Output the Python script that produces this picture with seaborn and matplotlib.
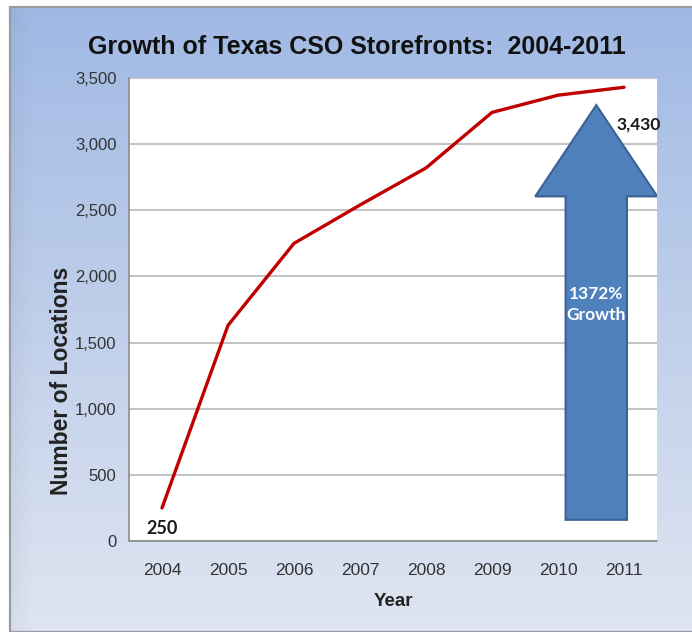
import numpy as np
import pandas as pd
import matplotlib
matplotlib.use("Agg")
import matplotlib.pyplot as plt
import seaborn as sns
from matplotlib.patches import FancyArrow, Rectangle

# ---- data ----
years = ["2004", "2005", "2006", "2007", "2008", "2009", "2010", "2011"]
locations = [250, 1630, 2250, 2540, 2820, 3240, 3370, 3430]
y_ticks = [0, 500, 1000, 1500, 2000, 2500, 3000, 3500]
y_tick_labels = ["0", "500", "1,000", "1,500", "2,000", "2,500", "3,000", "3,500"]
first_label = "250"
last_label = "3,430"
arrow_text = "1372%\nGrowth"
title = "Growth of Texas CSO Storefronts:  2004-2011"

sns.set_theme(style="white")
narrow = ["Liberation Sans Narrow", "Liberation Sans", "DejaVu Sans"]
plt.rcParams["font.family"] = narrow

df = pd.DataFrame({"idx": np.arange(len(years)), "Year": years, "Locations": locations})

W, H = 692, 632
fig = plt.figure(figsize=(W / 100, H / 100), dpi=100)
fig.patch.set_facecolor("white")

# gradient background panel
bg = fig.add_axes([10 / W, 0, 1 - 10 / W, 1 - 7 / H])
bg.set_zorder(-10)
top = np.array([160, 185, 228]) / 255
bot = np.array([223, 229, 241]) / 255
t = np.linspace(0, 1, 256)[:, None]
grad = top[None, None, :] * (1 - t[..., None]) + bot[None, None, :] * t[..., None]
xs = np.linspace(0, 1, 256)[None, :, None]
grad = np.repeat(grad, 256, axis=1)
grad = grad * (0.96 + 0.04 * np.clip(xs * 30, 0, 1))
bg.imshow(grad, aspect="auto", extent=[0, 1, 0, 1])
bg.set_xlim(0, 1)
bg.set_ylim(0, 1)
bg.axis("off")
bg.add_patch(Rectangle((0, 0), 1.2, 1, fill=False, edgecolor="#9a9ca3", lw=1.6,
                       transform=bg.transAxes, clip_on=False))

ax = fig.add_axes([129 / W, (H - 541) / H, (657 - 129) / W, (541 - 78) / H])
ax.set_facecolor("white")

sns.lineplot(data=df, x="idx", y="Locations", ax=ax, color="#c00000", lw=2.4,
             zorder=3, legend=False)

ax.set_xlim(-0.5, len(years) - 0.5)
ax.set_ylim(0, 3500)
ax.set_yticks(y_ticks)
ax.set_yticklabels(y_tick_labels, fontsize=12, color="#333333")
ax.yaxis.grid(True, color="#c4c4c4", lw=1.5)
ax.set_xticks(np.arange(len(years)))
ax.set_xticklabels(years, fontsize=12.5, color="#333333")
ax.set_xticks(np.arange(len(years) + 1) - 0.5, minor=True)
ax.tick_params(axis="x", which="major", length=0, pad=16)
ax.tick_params(axis="x", which="minor", length=5, color="#9a9a9a", width=1)
ax.tick_params(axis="y", which="major", length=5, color="#9a9a9a", width=1, pad=4)

for s in ["top", "right"]:
    ax.spines[s].set_visible(False)
for s in ["left", "bottom"]:
    ax.spines[s].set_color("#8c8c8c")
    ax.spines[s].set_linewidth(1.2)

ax.set_xlabel("Year", fontsize=13.5, fontweight="bold", color="#222222", labelpad=11)
ax.set_ylabel("Number of Locations", fontsize=16.5, fontweight="bold", color="#222222",
              family=["Liberation Sans", "DejaVu Sans"])
ax.yaxis.set_label_coords(-0.106, 0.346)

# arrow
arr = FancyArrow(6.58, 160, 0, 3135, width=0.93, head_width=1.85, head_length=690,
                 length_includes_head=True, facecolor="#4f81bd", edgecolor="#3a6294",
                 lw=1.5, zorder=4)
ax.add_patch(arr)
ax.text(6.58, 1790, arrow_text, ha="center", va="center", color="white",
        fontsize=12.5, family=["Lato", "DejaVu Sans"], fontweight="bold",
        linespacing=1.4, zorder=5)

# data labels
ax.text(0, 95, first_label, ha="center", va="center", fontsize=13,
        family=["Lato", "DejaVu Sans"], fontweight="bold", color="#1a1a1a", zorder=5)
ax.text(len(years) - 1 + 0.22, 3150, last_label, ha="center", va="center", fontsize=12.5,
        family=["Lato", "DejaVu Sans"], fontweight="bold", color="#1a1a1a", zorder=5,
        clip_on=False)

fig.text(357 / W, 1 - 47 / H, title, ha="center", va="center", fontsize=18,
         fontweight="bold", color="#111111")

fig.savefig("out.png", dpi=100)
